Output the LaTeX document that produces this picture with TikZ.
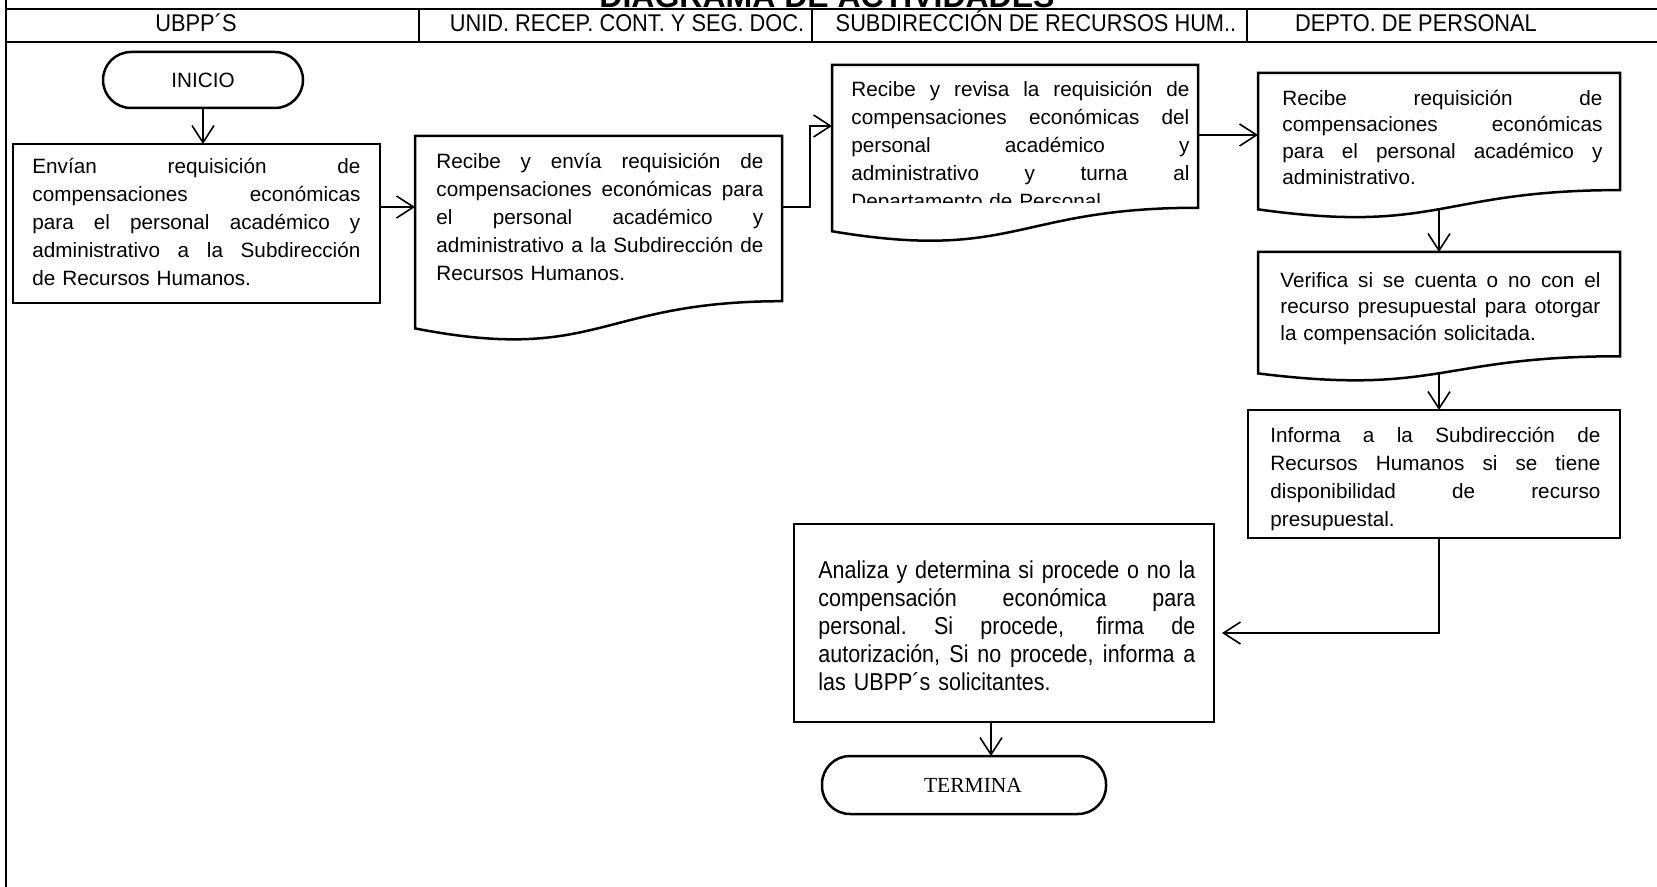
\documentclass[tikz,border=0pt]{standalone}
\usepackage{fontspec}
\setmainfont{Liberation Sans}
\newfontfamily\narrowsans[FakeStretch=0.88]{Liberation Sans}
\newfontfamily\headsans[FakeStretch=0.9]{Liberation Sans}
\newfontfamily\serifface{Liberation Serif}
\usetikzlibrary{calc,fit,arrows.meta}
\hbadness=10000
% a stack of lines: justified lines, then a closing (ragged) line
\newcommand\lines[1]{\vbox{#1}}
\newcommand\jl[1]{\hbox to\hsize{\spaceskip=0.278em plus 1fil\xspaceskip=\spaceskip
  \rule{0pt}{9.5pt}#1}}
\newcommand\el[1]{\hbox{\rule{0pt}{9.5pt}#1}}
% document symbol drawn over an invisible frame node
\newcommand\docoutline[1]{%
  \draw[boxline] (#1.north west) -- (#1.north east)
    -- ($(#1.north east)!0.802!(#1.south east)$)
    .. controls ($(#1.north)!0.802!(#1.south)$) and ($(#1.north)!1.107!(#1.south)$)
    .. ($(#1.north west)!0.934!(#1.south west)$) -- cycle;}
\begin{document}
\begin{tikzpicture}[x=0.5pt,y=-0.5pt,line join=miter,
  frameline/.style={line width=1.1pt},
  boxline/.style={line width=1.25pt},
  flow/.style={line width=0.8pt,-{Straight Barb[length=8.5pt,width=11pt]}},
  area/.style={inner sep=0pt,outer sep=0pt},
  procbox/.style={area,draw,boxline},
  term/.style={area,draw,boxline,rounded corners=14pt},
  txt/.style={inner sep=0pt,anchor=north west,font=\fontsize{10.35pt}{#1}\selectfont},
  txt/.default=14pt,
  head/.style={inner sep=0pt,anchor=base,font=\headsans\fontsize{12.1pt}{14pt}\selectfont}]
\useasboundingbox (0,0) rectangle (1657,887);
\fill[white] (0,0) rectangle (1657,887);

% title band and lane headers
\begin{scope}
  \clip (0,0) rectangle (1657,887);
  \node[inner sep=0pt,anchor=base,font=\bfseries\fontsize{16pt}{18pt}\selectfont]
    (title) at (827,7.5) {DIAGRAMA DE ACTIVIDADES};
\end{scope}
\draw[frameline] (6,0) -- (6,887);
\draw[frameline] (6,9) -- (1657,9);
\draw[frameline] (6,42) -- (1657,42);
\draw[frameline] (419,9) -- (419,42);
\draw[frameline] (812,9) -- (812,42);
\draw[frameline] (1247,9) -- (1247,42);
\node[head] (lane1) at (196,32) {UBPP´S};
\node[head] (lane2) at (627,32) {UNID. RECEP. CONT. Y SEG. DOC.};
\node[head] (lane3) at (1036,32) {SUBDIRECCIÓN DE RECURSOS HUM..};
\node[head] (lane4) at (1416,32) {DEPTO. DE PERSONAL};

% start
\node[term,minimum width=100pt,minimum height=28pt,font=\fontsize{10.35pt}{12pt}\selectfont]
  (inicio) at (203,80) {INICIO};

% UBPP's
\node[procbox,fit={(13,144) (380,303)}] (box1) {};
\node[txt,text width=164pt] (box1text) at (32,154) {\lines{%
  \jl{Envían requisición de}
  \jl{compensaciones económicas}
  \jl{para el personal académico y}
  \jl{administrativo a la Subdirección}
  \el{de Recursos Humanos.}}};

% reception unit
\node[area,fit={(415,136) (782,342)}] (box2) {};
\docoutline{box2}
\node[txt,text width=163.5pt] (box2text) at (436,149) {\lines{%
  \jl{Recibe y envía requisición de}
  \jl{compensaciones económicas para}
  \jl{el personal académico y}
  \jl{administrativo a la Subdirección de}
  \el{Recursos Humanos.}}};

% human resources
\node[area,fit={(832,65) (1198,243)}] (box3) {};
\docoutline{box3}
\begin{scope}
  \clip (832,65) rectangle (1198,203);
  \node[txt,text width=169pt] (box3text) at (851,77) {\lines{%
    \jl{Recibe y revisa la requisición de}
    \jl{compensaciones económicas del}
    \jl{personal académico y}
    \jl{administrativo y turna al}
    \el{Departamento de Personal.}}};
\end{scope}

% personnel department
\node[area,fit={(1258,73) (1620,219)}] (box4) {};
\docoutline{box4}
\node[txt=13.25pt,text width=160pt] (box4text) at (1282,86) {\lines{%
  \jl{Recibe requisición de}
  \jl{compensaciones económicas}
  \jl{para el personal académico y}
  \el{administrativo.}}};

\node[area,fit={(1258,252) (1620,382)}] (box5) {};
\docoutline{box5}
\node[txt=13.25pt,text width=160pt] (box5text) at (1280,268) {\lines{%
  \jl{Verifica si se cuenta o no con el}
  \jl{recurso presupuestal para otorgar}
  \el{la compensación solicitada.}}};

\node[procbox,fit={(1248,410) (1620,538)}] (box6) {};
\node[txt,text width=165pt] (box6text) at (1270,423) {\lines{%
  \jl{Informa a la Subdirección de}
  \jl{Recursos Humanos si se tiene}
  \jl{disponibilidad de recurso}
  \el{presupuestal.}}};

% decision in human resources
\node[procbox,fit={(794,524) (1214,722)}] (analiza) {};
\node[txt,text width=188.5pt,font=\narrowsans\fontsize{12.2pt}{14pt}\selectfont]
  (analizatext) at (818,559) {\lines{%
  \jl{Analiza y determina si procede o no la}
  \jl{compensación económica para}
  \jl{personal. Si procede, firma de}
  \jl{autorización, Si no procede, informa a}
  \el{las UBPP´s solicitantes.}}};

% end
\node[term,minimum width=142pt,minimum height=29pt,font=\serifface\fontsize{10.75pt}{12pt}\selectfont]
  (termina) at (964,785) {\hspace*{9pt}TERMINA};

% connectors
\draw[flow] (inicio.south) -- (inicio.south |- box1.north);
\coordinate (b1out) at ([shift={(0,-16.5)}]box1.east);
\draw[flow] (b1out) -- (b1out -| box2.west);
\coordinate (b2out) at ([shift={(0,-32)}]box2.east);
\draw[flow] (b2out) -- ++(28,0) |- ([shift={(0,-28)}]box3.west);
\coordinate (b3out) at ([shift={(0,-19)}]box3.east);
\draw[flow] (b3out) -- (b3out -| box4.west);
\draw[flow] ([shift={(0,-10)}]box4.south) -- (box5.north);
\draw[flow] ([shift={(0,-9)}]box5.south) -- (box5.south |- box6.north);
\draw[flow] ([shift={(5,0)}]box6.south) |- ([shift={(8,10)}]analiza.east);
\coordinate (aout) at ([shift={(-13,0)}]analiza.south);
\draw[flow] (aout) -- (aout |- termina.north);
\end{tikzpicture}
\end{document}
